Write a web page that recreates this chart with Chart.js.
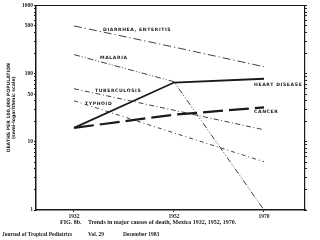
<!DOCTYPE html>
<html>
<head>
<meta charset="utf-8">
<script src="https://cdn.jsdelivr.net/npm/chart.js@4/dist/chart.umd.min.js"></script>
<style>
  html, body { margin: 0; padding: 0; background: #fff; }
  #wrap { width: 320px; height: 240px; position: relative; }
</style>
</head>
<body>
<div id="wrap"><canvas id="c" width="320" height="240"></canvas></div>
<script>
// years on the x axis
const years = [1932, 1952, 1970]
const yearTicks = [1932, 1952, 1970]

// deaths per 100,000
const diarrhea = [500, 245, 126]
const malaria = [190, 76, 1]
const heartDisease = [16, 74, 84]
const cancer = [16, 25, 32]
const tuberculosis = [60, 29, 15]
const typhoid = [40, 13.5, 5.1]

const yLabelled = [1, 10, 50, 100, 500, 1000]

function pts(vals) {
    return years.map((y, i) => ({ x: y, y: vals[i] }))
}

function logTicks() {
    var t = []
    for (var d = 1; d < 1000; d *= 10) {
        for (var k = 1; k < 10; k++) t.push({ value: k * d })
    }
    t.push({ value: 1000 })
    return t
}

const ink = '#1a1a1a'
const thin = '#2b2b2b'

// in-plot labels and the caption lines
const lineLabels = {
    id: 'lineLabels',
    afterDraw(chart) {
        const ctx = chart.ctx
        const xs = chart.scales.x, ys = chart.scales.y
        ctx.save()
        ctx.fillStyle = ink
        ctx.textBaseline = 'middle'
        ctx.font = 'bold 4.6px "DejaVu Sans"'
        ctx.letterSpacing = '0.6px'
        const items = [
            ['DIARRHEA, ENTERITIS', 1937.8, 445],
            ['MALARIA', 1937.2, 172],
            ['TUBERCULOSIS', 1936.2, 56],
            ['TYPHOID', 1934.2, 36],
            ['HEART DISEASE', 1968, 69],
            ['CANCER', 1968, 27.6]
        ]
        items.forEach(it => {
            ctx.fillText(it[0], xs.getPixelForValue(it[1]), ys.getPixelForValue(it[2]))
        })
        ctx.letterSpacing = '0px'
        ctx.font = 'bold 6px "Liberation Serif"'
        ctx.fillText('FIG. 8b.', 60, 222)
        ctx.fillText('Trends in major causes of death, Mexico 1932, 1952, 1970.', 88, 222)
        ctx.font = 'bold 5.5px "Liberation Serif"'
        ctx.fillText('Journal of Tropical Pediatrics', 2, 235)
        ctx.fillText('Vol. 29', 88, 235)
        ctx.fillText('December 1983', 123, 235)
        ctx.restore()
    }
}

function series(label, vals, width, dash, color) {
    return {
        label: label,
        data: pts(vals),
        borderColor: color,
        borderWidth: width,
        borderDash: dash,
        pointRadius: 0,
        fill: false,
        tension: 0
    }
}

new Chart(document.getElementById('c'), {
    type: 'line',
    data: {
        datasets: [
            series('Diarrhea, Enteritis', diarrhea, 0.9, [8, 3, 1.2, 3], thin),
            series('Malaria', malaria, 0.9, [6, 2, 1, 2, 1, 2], thin),
            series('Heart disease', heartDisease, 1.8, [], ink),
            series('Cancer', cancer, 2.2, [20, 6], ink),
            series('Tuberculosis', tuberculosis, 0.9, [5, 2.5, 1, 2.5], thin),
            series('Typhoid', typhoid, 0.9, [4, 3, 1, 3], thin)
        ]
    },
    plugins: [lineLabels],
    options: {
        responsive: false,
        animation: false,
        layout: { padding: { top: 5, left: 0, right: 0, bottom: 0 } },
        plugins: { legend: { display: false }, tooltip: { enabled: false } },
        scales: {
            x: {
                type: 'linear',
                min: 1924.4,
                max: 1978.2,
                afterBuildTicks: s => { s.ticks = yearTicks.map(v => ({ value: v })) },
                afterFit: s => { s.height = 30 },
                grid: { display: true, drawOnChartArea: false, tickLength: 2, color: ink },
                border: { display: true, color: ink, width: 1.5 },
                ticks: {
                    color: ink,
                    padding: 1,
                    maxRotation: 0,
                    font: { family: 'Liberation Serif', size: 5.5, weight: 'bold' },
                    callback: v => String(v)
                }
            },
            x2: {
                type: 'linear',
                position: 'top',
                min: 1924.4,
                max: 1978.2,
                afterFit: s => { s.height = 0 },
                grid: { display: false },
                ticks: { display: false },
                border: { display: true, color: ink, width: 1 }
            },
            y: {
                type: 'logarithmic',
                min: 1,
                max: 1000,
                afterBuildTicks: s => { s.ticks = logTicks() },
                afterFit: s => { s.width = 36 },
                grid: { display: true, drawOnChartArea: false, tickLength: 2, color: ink },
                border: { display: true, color: ink, width: 1.5 },
                title: {
                    display: true,
                    text: ['DEATHS PER 100,000 POPULATION', '(semi-logarithmic scale)'],
                    color: ink,
                    font: { family: 'DejaVu Sans', size: 4.6, weight: 'bold' },
                    padding: { top: 6, bottom: 0 }
                },
                ticks: {
                    color: ink,
                    padding: 1,
                    autoSkip: false,
                    font: { family: 'Liberation Serif', size: 5.5, weight: 'bold' },
                    callback: v => yLabelled.includes(v) ? String(v) : ''
                }
            },
            y2: {
                type: 'logarithmic',
                position: 'right',
                min: 1,
                max: 1000,
                afterBuildTicks: s => { s.ticks = logTicks() },
                afterFit: s => { s.width = 15 },
                grid: { display: true, drawOnChartArea: false, tickLength: 2, color: ink },
                border: { display: true, color: ink, width: 1.2 },
                ticks: { display: true, autoSkip: false, font: { size: 4 }, callback: v => '' }
            }
        }
    }
})
</script>
</body>
</html>
